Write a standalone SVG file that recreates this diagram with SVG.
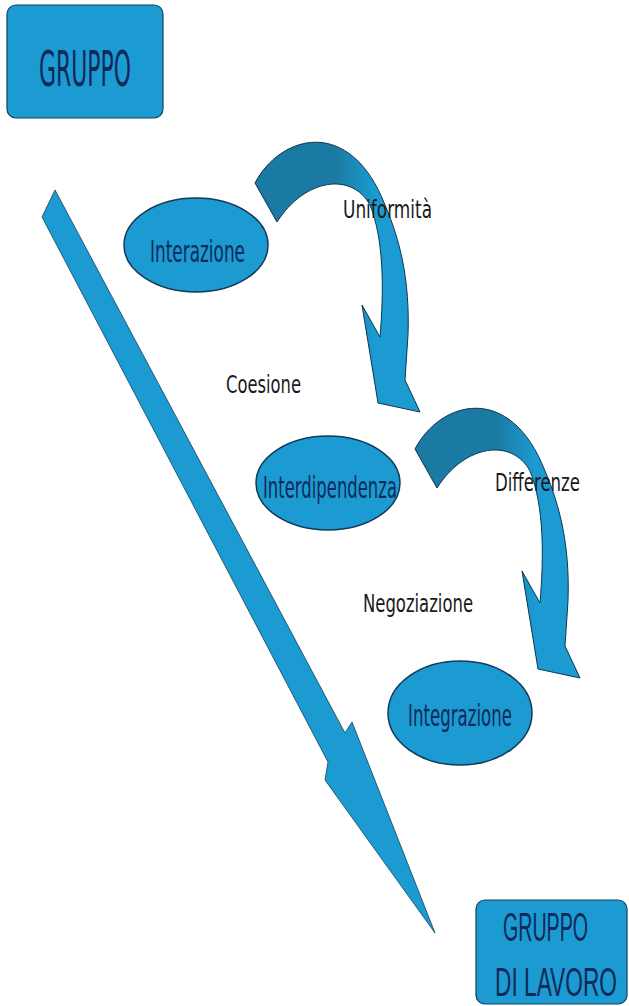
<svg xmlns="http://www.w3.org/2000/svg" width="629" height="1006" viewBox="0 0 629 1006">
<defs>
<linearGradient id="curveGrad" gradientUnits="userSpaceOnUse" x1="335" y1="0" x2="375" y2="0">
<stop offset="0" stop-color="#1b7aa3"/>
<stop offset="1" stop-color="#1b9bd1"/>
</linearGradient>
</defs>
<style>
.box{fill:#1b9bd1;stroke:#13405e;stroke-width:1.2}
.node{fill:#1b9bd1;stroke:#123a58;stroke-width:1.5}
.ntext{font-family:"DejaVu Sans","Liberation Sans",sans-serif;fill:#0f2a5a}
.btext{font-family:"Liberation Sans","DejaVu Sans",sans-serif;fill:#0f2a5a}
.lbl{font-family:"DejaVu Sans","Liberation Sans",sans-serif;fill:#1a1a1a;font-size:24px}
.curve{fill:url(#curveGrad);stroke:#0e3550;stroke-width:1}
.diag{fill:#1b9bd1;stroke:#13405e;stroke-width:0.8}
</style>
<rect width="629" height="1006" fill="#ffffff"/>
<g id="connectors">
<polygon class="diag" points="55,190 345,733 352,722 435,933 325,780 328,762 42,217"/>
<path id="arrow-uniformita" class="curve" d="M 255 183 C 280 135, 350 115, 385 205 C 400 240, 410 280, 408 335 L 405 380 L 420 412 L 378 403 L 362 305 L 380 337 C 384 290, 384 240, 370 205 C 352 172, 305 178, 277 222 Z"/>
<path id="arrow-differenze" class="curve" transform="translate(160,266)" d="M 255 183 C 280 135, 350 115, 385 205 C 400 240, 410 280, 408 335 L 405 380 L 420 412 L 378 403 L 362 305 L 380 337 C 384 290, 384 240, 370 205 C 352 172, 305 178, 277 222 Z"/>
</g>
<g id="gruppo">
<rect class="box" x="7" y="5" width="156" height="113" rx="9"/>
<text class="ntext" x="39" y="86" font-size="50" textLength="92" lengthAdjust="spacingAndGlyphs">GRUPPO</text>
</g>
<g id="gruppo-di-lavoro">
<rect class="box" x="476" y="900" width="151" height="104" rx="9"/>
<text class="btext" transform="translate(503,941) scale(0.5,1)" x="0" y="0" font-size="40" textLength="170" lengthAdjust="spacingAndGlyphs">GRUPPO</text>
<text class="btext" transform="translate(495,996) scale(0.5,1)" x="0" y="0" font-size="40" textLength="244" lengthAdjust="spacingAndGlyphs">DI LAVORO</text>
</g>
<g id="interazione">
<ellipse class="node" cx="196" cy="245" rx="72" ry="47"/>
<text class="ntext" x="150" y="262" font-size="30" textLength="95" lengthAdjust="spacingAndGlyphs">Interazione</text>
</g>
<g id="interdipendenza">
<ellipse class="node" cx="328" cy="483" rx="72" ry="47"/>
<text class="ntext" x="263" y="498" font-size="30" textLength="134" lengthAdjust="spacingAndGlyphs">Interdipendenza</text>
</g>
<g id="integrazione">
<ellipse class="node" cx="460" cy="713" rx="72" ry="52"/>
<text class="ntext" x="408" y="726" font-size="30" textLength="104" lengthAdjust="spacingAndGlyphs">Integrazione</text>
</g>
<g id="labels">
<text class="lbl" x="343" y="218" font-size="28" textLength="89" lengthAdjust="spacingAndGlyphs">Uniformità</text>
<text class="lbl" x="226" y="393" font-size="28" textLength="75" lengthAdjust="spacingAndGlyphs">Coesione</text>
<text class="lbl" x="495" y="491" font-size="28" textLength="85" lengthAdjust="spacingAndGlyphs">Differenze</text>
<text class="lbl" x="363" y="612" font-size="28" textLength="110" lengthAdjust="spacingAndGlyphs">Negoziazione</text>
</g>
</svg>
